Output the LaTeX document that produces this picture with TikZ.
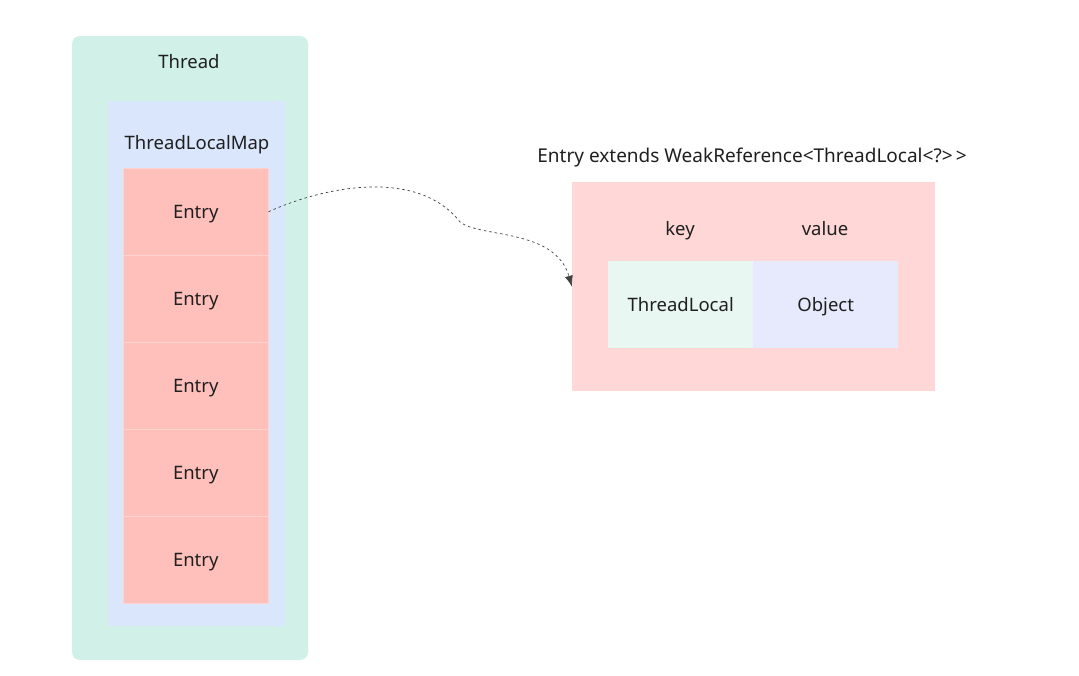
\documentclass[tikz,border=0pt]{standalone}
\usepackage{fontspec}
\setmainfont{Noto Sans}
\usetikzlibrary{arrows.meta}
\definecolor{threadc}{HTML}{D1F0E8}
\definecolor{mapc}{HTML}{DAE6FC}
\definecolor{entryc}{HTML}{FFBFBB}
\definecolor{sepc}{HTML}{FFD3D0}
\definecolor{boxc}{HTML}{FFD7D7}
\definecolor{keyc}{HTML}{E8F7F2}
\definecolor{valc}{HTML}{E6EAFC}
\definecolor{txt}{HTML}{1F1F1F}
\tikzset{
  lbl/.style={font=\fontsize{18.5}{22}\selectfont, text=txt, inner sep=0pt, text height=14pt, text depth=0pt},
  entrybox/.style={fill=entryc, draw=sepc, line width=0.5pt, minimum width=145pt, minimum height=87pt, inner sep=0pt, anchor=north west, lbl},
  cell/.style={minimum width=145pt, minimum height=87pt, inner sep=0pt, anchor=north west, lbl},
  ref/.style={draw=black!75, line width=0.7pt, dash pattern=on 2.5pt off 3pt, -{Latex[length=11pt,width=8pt]}}
}
\begin{document}
\begin{tikzpicture}[x=1pt,y=-1pt]
\useasboundingbox (0,0) rectangle (1079,676);
\fill[white] (0,0) rectangle (1079,676);
% Thread
\fill[threadc, rounded corners=8pt] (72,36) rectangle (308,660);
\node[lbl] (thread) at (189,62) {Thread};
% ThreadLocalMap
\fill[mapc] (108,101) rectangle (285,626);
\node[lbl] (map) at (197,143) {ThreadLocalMap};
% Entries
\node[entrybox] (e1) at (123,168) {Entry};
\node[entrybox] (e2) at (123,255) {Entry};
\node[entrybox] (e3) at (123,342) {Entry};
\node[entrybox] (e4) at (123,429) {Entry};
\node[entrybox] (e5) at (123,516) {Entry};
% Entry detail
\node[lbl, font=\fontsize{19}{22}\selectfont] (title) at (752,156) {Entry extends WeakReference<ThreadLocal<?>\,>};
\node[fill=boxc, minimum width=363pt, minimum height=209pt, inner sep=0pt, anchor=north west] (ebox) at (572,182) {};
\node[lbl] (key) at (680,229) {key};
\node[lbl] (value) at (825,229) {value};
\node[cell, fill=keyc] (tl) at (608,261) {ThreadLocal};
\node[cell, fill=valc] (obj) at (753,261) {Object};
% connector
\coordinate (mid) at (460,222);
\draw[ref] (e1.east) .. controls (330,184) and (420,170) .. (mid)
  .. controls (480,238) and (555,228) .. (ebox.west);
\end{tikzpicture}
\end{document}
